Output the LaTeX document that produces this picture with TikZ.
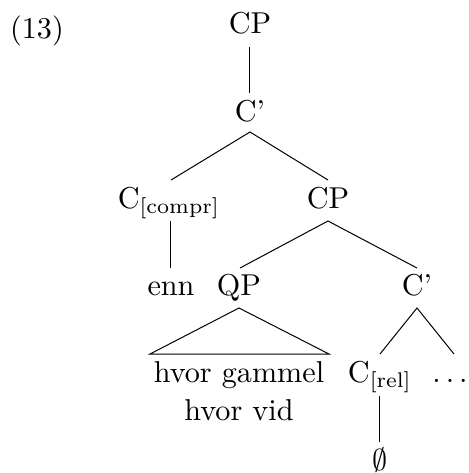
\documentclass[tikz,border=0pt]{standalone}
\newcommand{\bigtxt}[1]{\scalebox{1.51}{#1}}
\begin{document}
\begin{tikzpicture}[x=0.5pt,y=-0.5pt,
  lbl/.style={font=\fontsize{10}{12}\selectfont, inner sep=0pt, anchor=base},
  branch/.style={line width=0.5pt}]
\useasboundingbox (0,0) rectangle (469,473);
\node[lbl] (ex) at (37,38) {\bigtxt{(13)}};
\node[lbl] (cp1) at (250,33) {\bigtxt{CP}};
\node[lbl] (cb1) at (250,121) {\bigtxt{C'}};
\node[lbl] (ccompr) at (169,208) {\bigtxt{C$_{\mathrm{[compr]}}$}};
\node[lbl] (cp2) at (328,208) {\bigtxt{CP}};
\node[lbl] (enn) at (171,295) {\bigtxt{enn}};
\node[lbl] (qp) at (239,295) {\bigtxt{QP}};
\node[lbl] (cb2) at (417,295) {\bigtxt{C'}};
\node[lbl] (hg) at (239,382) {\bigtxt{hvor gammel}};
\node[lbl] (hv) at (239,420) {\bigtxt{hvor vid}};
\node[lbl] (crel) at (380,382) {\bigtxt{C$_{\mathrm{[rel]}}$}};
\node[lbl] (dots) at (450,382) {\bigtxt{$\ldots$}};
\node[lbl] (empty) at (380,470) {\bigtxt{$\emptyset$}};
\draw[branch] ([yshift=-7pt]cp1.base) -- ([yshift=14pt]cb1.base);
\draw[branch] ([xshift=1pt,yshift=14pt]ccompr.base) -- ([xshift=0pt,yshift=-5.5pt]cb1.base) -- ([yshift=14pt]cp2.base);
\draw[branch] ([xshift=1pt,yshift=-6.5pt]ccompr.base) -- ([yshift=13.5pt]enn.base);
\draw[branch] ([xshift=0.5pt,yshift=13.5pt]qp.base) -- ([yshift=-6.5pt]cp2.base) -- ([yshift=13.5pt]cb2.base);
\draw[branch] ([yshift=-6.5pt]qp.base) -- ([xshift=-44.5pt,yshift=14pt]hg.base) -- ([xshift=45pt,yshift=14pt]hg.base) -- cycle;
\draw[branch] ([yshift=14pt]crel.base) -- ([yshift=-6.5pt]cb2.base) -- ([xshift=2pt,yshift=14pt]dots.base);
\draw[branch] ([yshift=-7pt]crel.base) -- ([yshift=14pt]empty.base);
\end{tikzpicture}
\end{document}
